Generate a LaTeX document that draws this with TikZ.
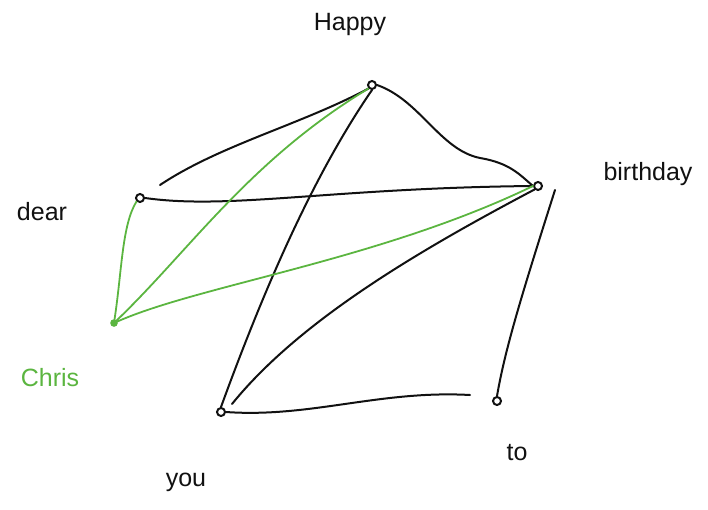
\documentclass[tikz,border=0pt]{standalone}
\usepackage{fontspec}
\setmainfont{Liberation Sans}
\definecolor{pen}{HTML}{111111}
\definecolor{grn}{HTML}{5BB540}
\begin{document}
\begin{tikzpicture}[x=1pt,y=-1pt,
  vtx/.style={circle,draw=pen,line width=2pt,inner sep=0pt,minimum size=8pt},
  gvtx/.style={circle,draw=grn,fill=grn,line width=1.5pt,inner sep=0pt,minimum size=6pt},
  edge/.style={draw=pen,line width=2pt,line cap=round},
  gedge/.style={draw=grn,line width=1.8pt,line cap=round},
  lbl/.style={font=\fontsize{25}{27}\selectfont,text=pen},
  glbl/.style={font=\fontsize{25}{27}\selectfont,text=grn}]
\useasboundingbox (0,0) rectangle (708,510);
% vertices
\node[vtx] (h) at (372,85) {};
\node[vtx] (b) at (538,186) {};
\node[vtx] (d) at (140,198) {};
\node[gvtx] (c) at (114,323) {};
\node[vtx] (y) at (221,412) {};
\node[vtx] (t) at (497,401) {};
% labels
\node[lbl] (lh) at (350,24) {Happy};
\node[lbl] (lb) at (648,174) {birthday};
\node[lbl] (ld) at (42,212) {dear};
\node[glbl] (lc) at (50,378) {Chris};
\node[lbl] (ly) at (186,482) {you};
\node[lbl] (lt) at (517,453) {to};
% free ends
\coordinate (dA) at (160,185);
\coordinate (bT) at (555,190);
\coordinate (yB) at (232,404);
\coordinate (tY) at (470,395);
% black edges
\draw[edge] (dA) .. controls (220,145) and (300,125) .. (h.south west);
\draw[edge] (h.east) .. controls (420,100) and (440,150) .. (480,158) .. controls (510,163) and (520,175) .. (b.west);
\draw[edge] (h.south) .. controls (310,180) and (260,300) .. (y.north);
\draw[edge] (d.east) .. controls (230,210) and (330,188) .. (b.west);
\draw[edge] (b.south west) .. controls (420,250) and (300,320) .. (yB);
\draw[edge] (bT) .. controls (520,300) and (505,350) .. (t.north);
\draw[edge] (y.east) .. controls (310,418) and (380,390) .. (tY);
% green edges
\draw[gedge] (c) .. controls (190,250) and (250,160) .. (h.south west);
\draw[gedge] (c) .. controls (200,285) and (380,260) .. (b.west);
\draw[gedge] (c) .. controls (122,270) and (122,225) .. (d.south west);
\end{tikzpicture}
\end{document}
